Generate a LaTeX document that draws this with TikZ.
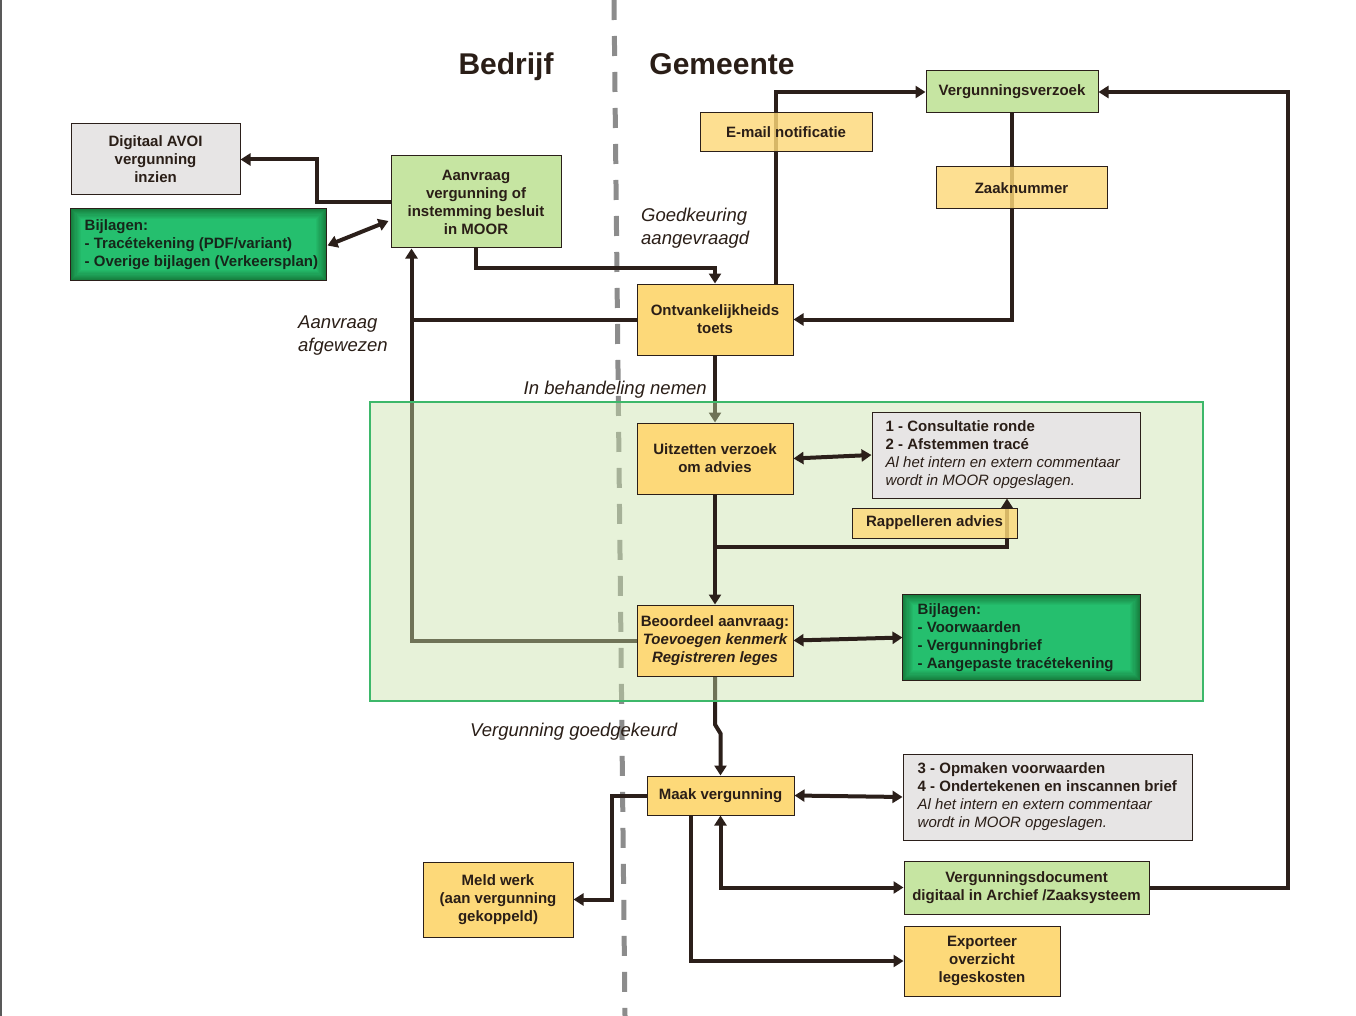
\documentclass[tikz,border=0pt]{standalone}
\usepackage{fontspec}
\setmainfont{Liberation Sans}
\usetikzlibrary{arrows.meta,calc}
\pgfdeclarelayer{back}
\pgfdeclarelayer{reg}
\pgfsetlayers{back,reg,main}
\definecolor{yel}{HTML}{FDD979}
\definecolor{lgr}{HTML}{C6E5A2}
\definecolor{lgray}{HTML}{E7E5E5}
\definecolor{dgout}{HTML}{17803F}
\definecolor{dgin}{HTML}{25C06E}
\definecolor{ink}{HTML}{2B1F1A}
\definecolor{txt}{HTML}{2A1E17}
\definecolor{dgtxt}{HTML}{16261A}
\definecolor{regfill}{RGB}{201,227,169}
\definecolor{regline}{HTML}{3DB86A}
\definecolor{dashgray}{HTML}{8C8C8C}
\newcommand\bxfont{\fontsize{15}{18}\selectfont\bfseries}
\newcommand\lbfont{\fontsize{18.5}{23}\selectfont\itshape}
\newcommand\dgfill[1]{%
  \foreach \k in {0,...,9}{%
    \pgfmathtruncatemacro\mx{\k*11}%
    \fill[dgin!\mx!dgout] ($(#1.south west)+(\k*1.2,-\k*1.2)$) rectangle ($(#1.north east)+(-\k*1.2,\k*1.2)$);}%
  \draw[ink, line width=1pt] (#1.south west) rectangle (#1.north east);}
\begin{document}
\begin{tikzpicture}[x=1pt,y=-1pt,
  box/.style={draw=ink, line width=1pt, inner sep=0pt, align=center, text=txt, font=\bxfont},
  ybox/.style={box, fill=yel},
  gbox/.style={box, fill=lgr},
  grbox/.style={box, fill=lgray},
  dgbox/.style={box, fill=dgout},
  tybox/.style={box, fill=yel, fill opacity=0.82, text opacity=1, draw opacity=1},
  conn/.style={draw=ink, line width=4pt},
  arr/.style={conn, -{Triangle[length=10pt,width=12pt]}},
  dbl/.style={conn, {Triangle[length=10pt,width=12pt]}-{Triangle[length=10pt,width=12pt]}},
  lbl/.style={font=\lbfont, text=txt, inner sep=0pt, align=left},
  boxtxt/.style={font=\bxfont, text=txt, inner sep=0pt, align=left},
  title/.style={font=\fontsize{30}{36}\selectfont\bfseries, text=txt, inner sep=0pt},
]
\useasboundingbox (0,0) rectangle (1356,1016);
\begin{pgfonlayer}{back}
\fill[white] (0,0) rectangle (1356,1016);
\draw[line width=2pt, color=black!65] (1,0) -- (1,1016);
\coordinate (dtop) at (614,0);
\coordinate (dbot) at (625,1016);
\draw[dashgray, line width=5pt, dash pattern=on 20pt off 16pt] (dtop) -- (dbot);
\end{pgfonlayer}

% titles
\node[title, anchor=base] (bedrijf) at (506,75) {Bedrijf};
\node[title, anchor=base] (gemeente) at (722,75) {Gemeente};

% ---------- nodes ----------
\node[grbox, minimum width=169, minimum height=71] (avoi) at (155.5,159.5) {Digitaal AVOI\\vergunning\\inzien};
\node[dgbox, minimum width=255, minimum height=71] (bijl1) at (198.5,244.5) {};
\node[gbox, minimum width=170, minimum height=92] (aanv) at (476,202) {Aanvraag\\vergunning of\\instemming besluit\\in MOOR};
\node[gbox, minimum width=172, minimum height=42] (verz) at (1012,92) {Vergunningsverzoek};
\node[ybox, minimum width=156, minimum height=71] (ont) at (715,319.5) {Ontvankelijkheids\\toets};
\node[ybox, minimum width=156, minimum height=71] (uitz) at (715,458.5) {Uitzetten verzoek\\om advies};
\node[grbox, minimum width=268, minimum height=86] (cons) at (1006,455) {};
\node[ybox, minimum width=156, minimum height=71] (beo) at (715,640.5) {};
\node[dgbox, minimum width=237, minimum height=85] (bijl2) at (1021.5,637.5) {};
\node[ybox, minimum width=147, minimum height=39] (maak) at (720.5,795.5) {Maak vergunning};
\node[grbox, minimum width=289, minimum height=86] (opm) at (1047.5,797) {};
\node[gbox, minimum width=245, minimum height=53] (vdoc) at (1026.5,887.5) {Vergunningsdocument\\digitaal in Archief /Zaaksysteem};
\node[ybox, minimum width=156, minimum height=70] (exp) at (982,961) {Exporteer\\overzicht\\legeskosten};
\node[ybox, minimum width=150, minimum height=75] (meld) at (498,899.5) {Meld werk\\(aan vergunning\\gekoppeld)};

\coordinate (fb) at ($(aanv.south west)+(21,0)$);

% ---------- connectors under the region (appear faded inside it) ----------
\begin{pgfonlayer}{back}
\draw[arr] (beo.west) -| (fb);
\draw[conn] (ont.west) -- (ont.west -| fb);
\draw[arr] (ont.south) -- (uitz.north);
\draw[arr] (beo.south) -- ++(0,48) -- ($(maak.north)+(0,-42)$) -- (maak.north);
\end{pgfonlayer}

% region
\begin{pgfonlayer}{reg}
\node[draw=regline, line width=1.2pt, fill=regfill, fill opacity=0.43, draw opacity=1, minimum width=833, minimum height=299, inner sep=0pt] (reg) at (786.5,551.5) {};
\end{pgfonlayer}

% ---------- other connectors ----------
\draw[arr] (aanv.west) -- ++(-74,0) |- (avoi.east);
\draw[dbl] ($(aanv.west)+(-2,19)$) -- ($(bijl1.east)+(1,1)$);
\draw[arr] (aanv.south) -- ++(0,19) -| (ont.north);
\draw[arr] ($(ont.north)+(61,0)$) |- (verz.west);
\draw[arr] (verz.south) |- (ont.east);
\draw[dbl] (uitz.east) -- (cons.west);
\draw[arr] (uitz.south) -- (beo.north);
\draw[arr] ($(uitz.south)+(0,52)$) -| ($(cons.south)+(1,0)$);
\draw[dbl] (beo.east) -- (bijl2.west);
\draw[arr] (maak.west) -- ++(-35,0) |- (meld.east);
\draw[arr] ($(maak.south)+(-30,0)$) |- (exp.west);
\draw[dbl] (maak.south) |- (vdoc.west);
\draw[dbl] (maak.east) -- (opm.west);
\draw[arr] (vdoc.east) -- ++(138,0) |- (verz.east);

% ---------- semi-transparent boxes over lines ----------
\node[tybox, minimum width=172, minimum height=39] (email) at (786,132.5) {E-mail notificatie};
\node[tybox, minimum width=171, minimum height=42] (zaak) at (1021.5,188) {Zaaknummer};
\node[tybox, minimum width=165, minimum height=30] (rapp) at (934.5,523) {Rappelleren advies};

% ---------- box contents ----------
\dgfill{bijl1}
\node[boxtxt, text=dgtxt, anchor=west] (bijl1t) at ($(bijl1.west)+(14,0)$) {Bijlagen:\\- Tracétekening (PDF/variant)\\- Overige bijlagen (Verkeersplan)};
\dgfill{bijl2}
\node[boxtxt, text=dgtxt, anchor=west] (bijl2t) at ($(bijl2.west)+(15,0)$) {Bijlagen:\\- Voorwaarden\\- Vergunningbrief\\- Aangepaste tracétekening};
\node[boxtxt, anchor=west] (const) at ($(cons.west)+(14,0)$) {1 - Consultatie ronde\\2 - Afstemmen tracé\\{\mdseries\itshape Al het intern en extern commentaar}\\{\mdseries\itshape wordt in MOOR opgeslagen.}};
\node[boxtxt, anchor=west] (opmt) at ($(opm.west)+(15,0)$) {3 - Opmaken voorwaarden\\4 - Ondertekenen en inscannen brief\\{\mdseries\itshape Al het intern en extern commentaar}\\{\mdseries\itshape wordt in MOOR opgeslagen.}};
\node[boxtxt, align=center] (beot) at (beo.center) {Beoordeel aanvraag:\\{\itshape Toevoegen kenmerk}\\{\itshape Registreren leges}};

% ---------- labels ----------
\node[lbl, anchor=west] (goedk) at (641,228.5) {Goedkeuring\\aangevraagd};
\node[lbl, anchor=west] (afgew) at (298,336) {Aanvraag\\afgewezen};
\node[lbl, anchor=base east] (inbeh) at (707,394) {In behandeling nemen};
\node[lbl, anchor=base west] (goedg) at (470,736) {Vergunning goedgekeurd};
\end{tikzpicture}
\end{document}
